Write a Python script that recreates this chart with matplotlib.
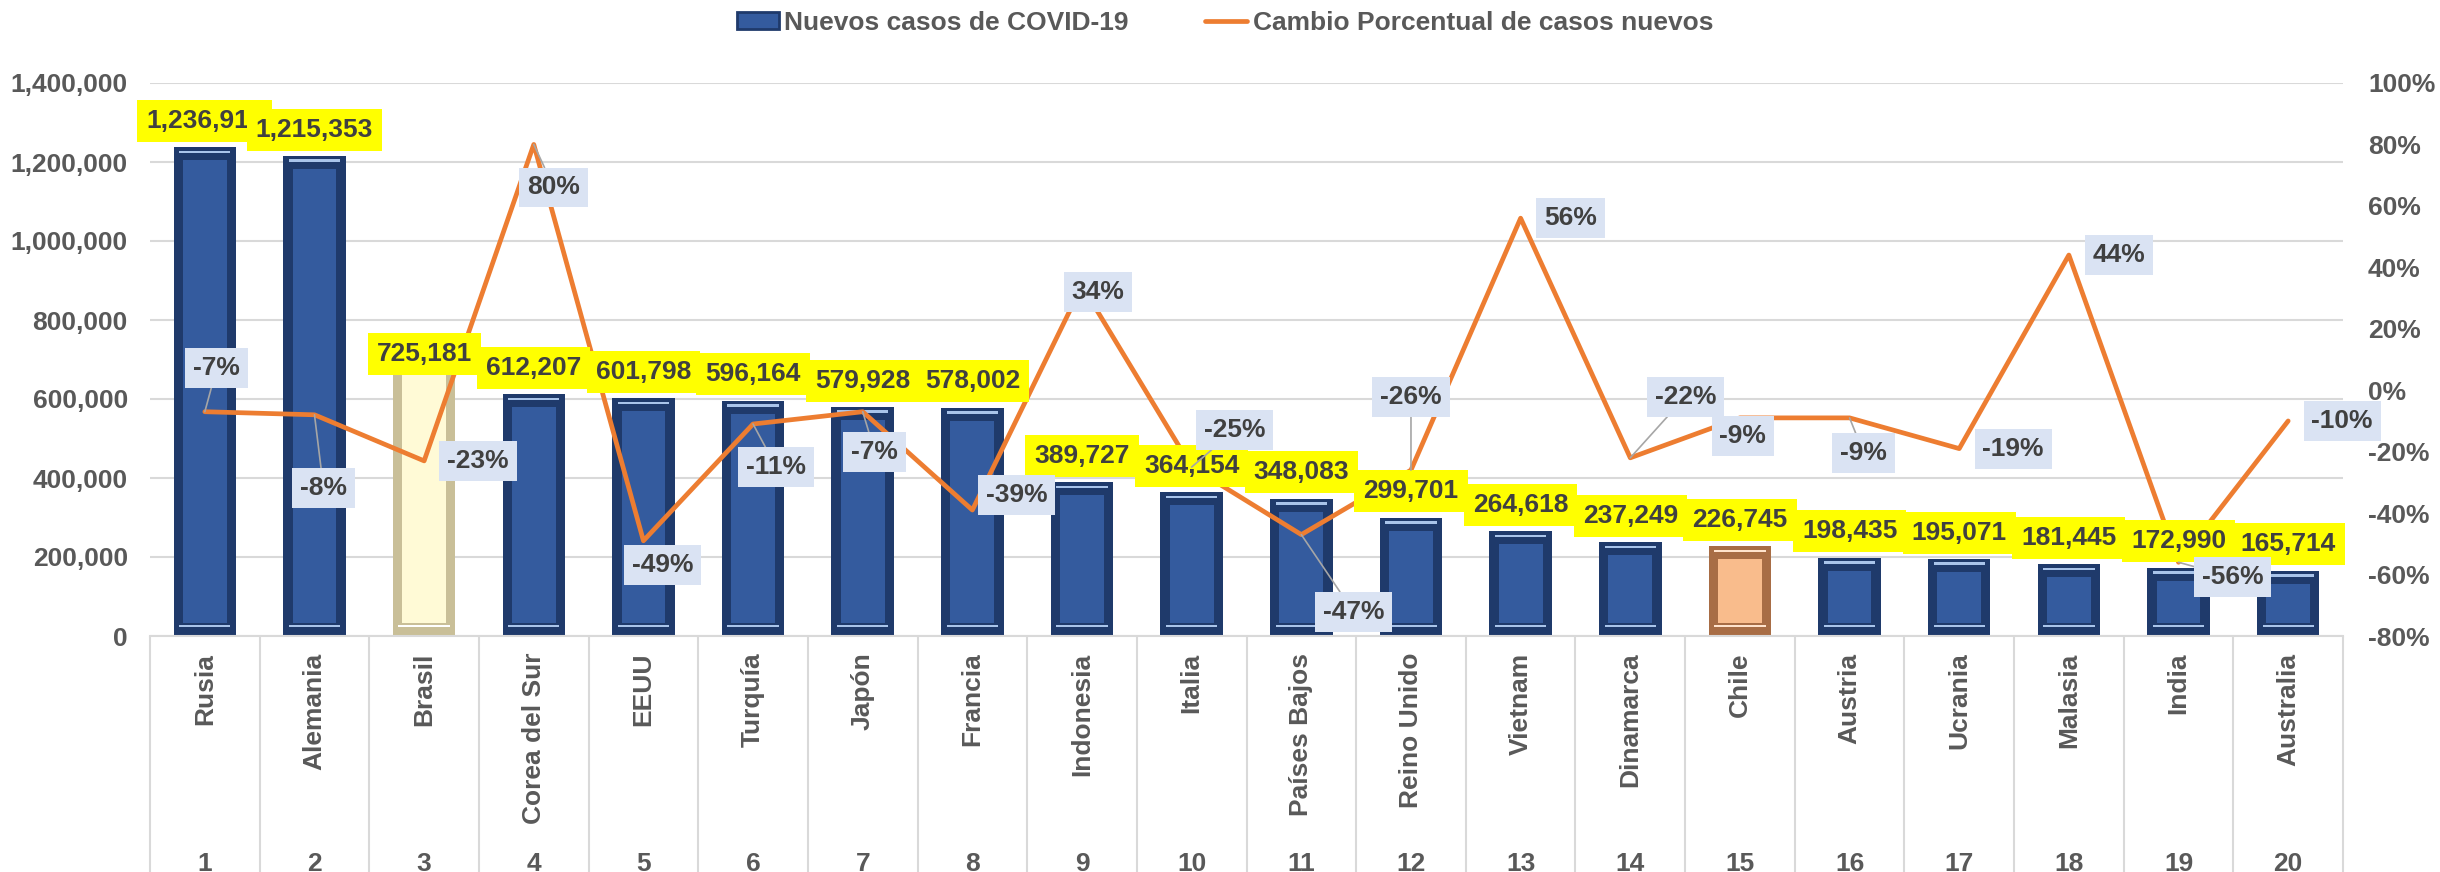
import numpy as np
import matplotlib
matplotlib.use("Agg")
import matplotlib.pyplot as plt
from matplotlib.patches import Patch
from matplotlib.lines import Line2D
import matplotlib.transforms as mtransforms

plt.rcParams['font.family'] = ['Liberation Sans', 'DejaVu Sans']
plt.rcParams['font.weight'] = 'bold'

# data
countries = ['Rusia', 'Alemania', 'Brasil', 'Corea del Sur', 'EEUU', 'Turquía', 'Japón',
             'Francia', 'Indonesia', 'Italia', 'Países Bajos', 'Reino Unido', 'Vietnam',
             'Dinamarca', 'Chile', 'Austria', 'Ucrania', 'Malasia', 'India', 'Australia']
ranks = list(range(1, 21))
new_cases = [1236910, 1215353, 725181, 612207, 601798, 596164, 579928, 578002, 389727,
             364154, 348083, 299701, 264618, 237249, 226745, 198435, 195071, 181445,
             172990, 165714]
pct_change = [-0.07, -0.08, -0.23, 0.80, -0.49, -0.11, -0.07, -0.39, 0.34, -0.25,
              -0.47, -0.26, 0.56, -0.22, -0.09, -0.09, -0.19, 0.44, -0.56, -0.10]

# label placement (pixels, right / down) and leader lines, as in the original
pct_offsets = [(12, -44), (9, 73), (54, 0), (20, 43), (19, 24), (23, 43), (12, 40),
               (44, -15), (16, 6), (43, -37), (52, 77), (0, -73), (50, 0), (55, -61),
               (3, 18), (14, 35), (54, 0), (50, 0), (54, 15), (54, 0)]
pct_leader = [1, 1, 0, 1, 0, 1, 1, 0, 0, 1, 1, 1, 0, 1, 0, 1, 0, 0, 1, 0]

# bar colours: (edge, face, highlight)
blue = ('#1F3A6B', '#345B9E', '#A9C4EA')
special = {'Brasil': ('#C9BF98', '#FFFAD6', '#FFFFFF'),
           'Chile': ('#A86D45', '#F9BC8C', '#FFE3CC')}

text_col = '#404040'
axis_col = '#595959'
grid_col = '#D9D9D9'
orange = '#ED7D31'
FS = 19

fig = plt.figure(figsize=(24.4, 8.72), dpi=100)
ax = fig.add_axes([150 / 2440, (872 - 636) / 872, (2343 - 150) / 2440, (636 - 83) / 872])
ax2 = ax.twinx()

ymax = 1400000
px = ymax / 553.0
x = np.arange(len(countries))
w = 0.57
ins = 13 * px

for i, (c, v) in enumerate(zip(countries, new_cases)):
    edge, face, hi = special.get(c, blue)
    ax.bar(i, v, w, color=edge, zorder=2)
    ax.bar(i, v - 2 * ins, w * 0.7, bottom=ins, color=face, zorder=3)
    ax.bar(i, 2.5 * px, w * 0.82, bottom=v - 6 * px, color=hi, zorder=4)
    ax.bar(i, 2.5 * px, w * 0.82, bottom=9 * px, color=hi, zorder=4)

ax.set_xlim(-0.5, len(countries) - 0.5)
ax.set_ylim(0, ymax)
left_ticks = np.arange(0, ymax + 1, 200000)
ax.set_yticks(left_ticks)
ax.set_yticklabels([f'{t:,.0f}' for t in left_ticks])
ax.grid(axis='y', color=grid_col, lw=1.5, zorder=0)
ax.set_axisbelow(True)
ax.tick_params(axis='y', length=0, pad=16, labelsize=FS, labelcolor=axis_col)
ax.set_xticks(x)
ax.set_xticklabels(countries, rotation=90, fontsize=FS, color=axis_col)
ax.set_xticks(np.arange(-0.5, len(countries), 1), minor=True)
ax.tick_params(axis='x', which='major', length=0, pad=12)
ax.tick_params(axis='x', which='minor', length=180, width=1.5, color=grid_col)
for s in ['left', 'right', 'top']:
    ax.spines[s].set_visible(False)
ax.spines['bottom'].set_color(grid_col)
ax.spines['bottom'].set_linewidth(1.5)

trans = mtransforms.blended_transform_factory(ax.transData, fig.transFigure)
for i, r in enumerate(ranks):
    ax.text(i, 1 / 872, str(r), transform=trans, ha='center', va='baseline',
            fontsize=FS, color=axis_col)

# line series
ax2.plot(x, pct_change, color=orange, lw=3.4, solid_joinstyle='round',
         solid_capstyle='round', zorder=5)
ax2.set_ylim(-0.8, 1.0)
right_ticks = np.round(np.arange(-0.8, 1.01, 0.2), 2) + 0.0
ax2.set_yticks(right_ticks)
ax2.set_yticklabels([f'{round(t * 100):d}%' for t in right_ticks])
ax2.tick_params(axis='y', length=0, pad=18, labelsize=FS, labelcolor=axis_col)
for s in ['left', 'right', 'top', 'bottom']:
    ax2.spines[s].set_visible(False)

# bar value labels (drawn on ax2 so they sit above the line)
for i, v in enumerate(new_cases):
    dy = -3 if countries[i] == 'Brasil' else 19
    ax2.annotate(f'{v:,}', xy=(i, v), xycoords=ax.transData, xytext=(0, dy),
                 textcoords='offset points', ha='center', va='center',
                 fontsize=FS, color=text_col, zorder=10 + i,
                 bbox=dict(boxstyle='square,pad=0.34', fc='#FFFF00', ec='none'))

# percentage labels
for i, p in enumerate(pct_change):
    dx, dy = pct_offsets[i]
    arrow = dict(arrowstyle='-', color='#A6A6A6', lw=1.2, shrinkA=0, shrinkB=0) if pct_leader[i] else None
    ax2.annotate(f'{round(p * 100):d}%', xy=(i, p), xytext=(dx * 0.72, -dy * 0.72),
                 textcoords='offset points', ha='center', va='center',
                 fontsize=FS, color=text_col, zorder=40,
                 bbox=dict(boxstyle='square,pad=0.3', fc='#DAE3F3', ec='none'),
                 arrowprops=arrow)

handles = [Patch(facecolor=blue[1], edgecolor=blue[0], lw=2),
           Line2D([0], [0], color=orange, lw=3.4, solid_capstyle='round')]
fig.legend(handles, ['Nuevos casos de COVID-19', 'Cambio Porcentual de casos nuevos'],
           loc='center', bbox_to_anchor=(0.502, 1 - 23 / 872), ncol=2, frameon=False,
           fontsize=FS, labelcolor=axis_col, handlelength=1.6, handletextpad=0.2,
           columnspacing=2.9, handleheight=0.6)

fig.savefig('out.png', dpi=100)
